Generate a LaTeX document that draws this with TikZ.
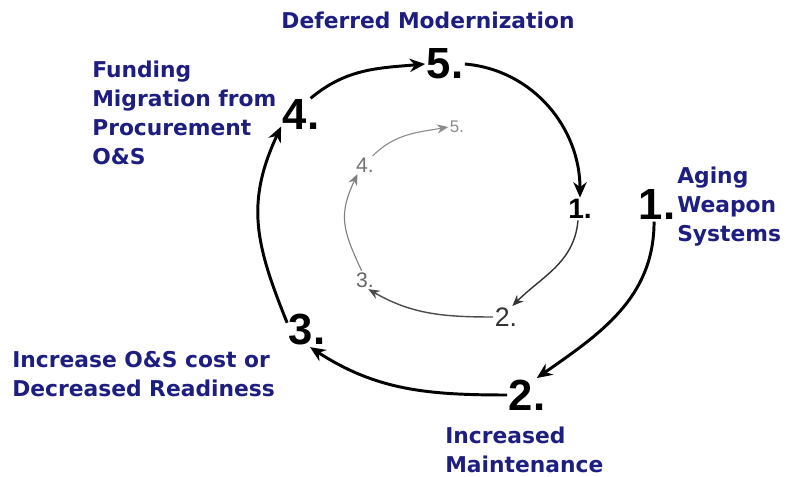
\documentclass[tikz,border=0pt]{standalone}
\usepackage{fontspec}
\setmainfont{Liberation Sans}
\newfontfamily\labelfont{DejaVu Sans}
\usetikzlibrary{arrows.meta}
\definecolor{navy}{RGB}{30,30,128}

\begin{document}
\begin{tikzpicture}[x=0.025cm,y=-0.025cm,
  bignum/.style={font=\fontsize{31}{31}\selectfont\bfseries,inner sep=1pt},
  smallnum/.style={font=\fontsize{19}{19}\selectfont,inner sep=1pt},
  caption/.style={font=\labelfont\bfseries\fontsize{15.5}{20.5}\selectfont,text=navy,align=left,inner sep=0pt},
  outer/.style={-{Stealth[length=11pt,width=9.5pt]},line width=2.1pt},
  inner/.style={-{Stealth[length=8pt,width=6.5pt]},line width=1pt}]

  \useasboundingbox (0,0) rectangle (789,477);

  % big cycle
  \node[bignum] (o1) at (657,205) {1.};
  \node[bignum] (o2) at (527,395) {2.};
  \node[bignum] (o3) at (307,330) {3.};
  \node[bignum] (o4) at (301,115) {4.};
  \node[bignum] (o5) at (445,64) {5.};

  % small cycle
  \node[smallnum,font=\fontsize{20}{20}\selectfont\bfseries] (i1) at (580,209) {1.};
  \node[smallnum,text=black!80] (i2) at (506,317) {2.};
  \node[smallnum,font=\fontsize{15}{15}\selectfont,text=black!60] (i3) at (365,280) {3.};
  \node[smallnum,font=\fontsize{15}{15}\selectfont,text=black!55] (i4) at (365,165) {4.};
  \node[smallnum,font=\fontsize{12}{12}\selectfont,text=black!45] (i5) at (457,127) {5.};

  % captions
  \node[caption] (defer) at (428,20) {Deferred Modernization};
  \node[caption,anchor=north west] (fund) at (92,61) {Funding\\Migration from\\Procurement\\O\&S};
  \node[caption,anchor=north west] (aging) at (677,167) {Aging\\Weapon\\Systems};
  \node[caption,anchor=north west] (cost) at (12,351) {Increase O\&S cost or\\Decreased Readiness};
  \node[caption,anchor=north west] (maint) at (445,427) {Increased\\Maintenance};

  % connectors
  \draw[outer] (o1.-100) to[out=-90,in=35] (o2.60);
  \draw[outer] (o2.west) to[out=180,in=-33] (o3.-80);
  \draw[outer] (o3.160) to[out=112,in=-115,looseness=1.1] (o4.-150);
  \draw[outer] (o4.60) to[out=40,in=185] (o5.west);
  \draw[outer] (o5.east) to[out=-5,in=90] (i1.north);

  \draw[inner,draw=black!80] (i1.-100) to[out=-95,in=45] (i2.60);
  \draw[inner,draw=black!70] (i2.west) to[out=180,in=-30] (i3.-70);
  \draw[inner,draw=black!50,line width=0.8pt] (i3.110) to[out=115,in=-115,looseness=1.2] (i4.-130);
  \draw[inner,draw=black!45,line width=0.8pt] (i4.50) to[out=45,in=190] (i5.west);

\end{tikzpicture}
\end{document}
